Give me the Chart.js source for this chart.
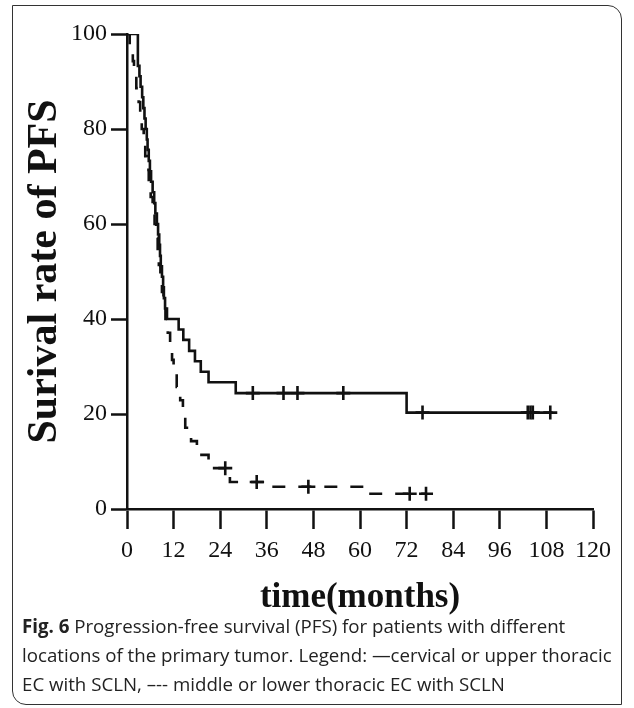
<!DOCTYPE html>
<html>
<head>
<meta charset="utf-8">
<script src="https://cdn.jsdelivr.net/npm/chart.js@4/dist/chart.umd.min.js"></script>
<style>
  body { margin: 0; background: #fff; width: 634px; height: 708px; position: relative; overflow: hidden; }
  #moldura {
    position: absolute; left: 12px; top: 5px; width: 608px; height: 698px;
    border: 1.5px solid #333; border-top-right-radius: 14px; border-bottom-left-radius: 14px;
  }
  #grafico { position: absolute; left: 0; top: 0; }
  #legenda {
    position: absolute; left: 22px; top: 611px; width: 605px;
    font-family: "Open Sans", "Noto Sans", sans-serif; font-size: 18.7px; line-height: 29px; color: #222;
    white-space: nowrap;
  }
  #legenda b { font-weight: 700; }
</style>
</head>
<body>
<div id="moldura"></div>
<canvas id="grafico" width="634" height="615"></canvas>
<div id="legenda"><b>Fig. 6</b> Progression-free survival (PFS) for patients with different<br>locations of the primary tumor. Legend: —cervical or upper thoracic<br>EC with SCLN, –-- middle or lower thoracic EC with SCLN</div>
<script>
// cervical / upper thoracic (solid line)
const tempoSolido = [0, 2.8, 3.2, 3.5, 3.9, 4.2, 4.5, 4.8, 5.1, 5.3, 5.6, 5.9, 6.2, 6.6, 7.0, 7.3, 7.7, 8.0, 8.3, 8.5,
    8.7, 9.0, 9.3, 9.5, 9.8, 10.3, 13.3, 14.5, 16.0, 17.5, 19.0, 21.0, 28.0, 72.0, 109.6];
const sobrevSolido = [100, 93.3, 91.1, 88.9, 86.7, 84.4, 82.2, 80.0, 77.8, 75.6, 73.3, 71.1, 68.9, 66.7, 64.4, 62.2, 60.0, 57.8, 55.6, 53.3,
    51.1, 48.9, 46.7, 44.4, 42.2, 40.0, 37.8, 35.6, 33.3, 31.1, 28.9, 26.7, 24.4, 20.3, 20.3];
const censuraSolidoT = [32.4, 40.3, 43.9, 55.7, 76.1, 103.2, 103.9, 104.5, 109.0];
const censuraSolidoS = [24.4, 24.4, 24.4, 24.4, 20.3, 20.3, 20.3, 20.3, 20.3];

// middle / lower thoracic (dashed line)
const tempoTracejado = [0, 0.7, 1.5, 1.8, 2.4, 3.0, 3.4, 3.8, 4.3, 4.7, 5.1, 5.6, 6.1, 6.6, 7.1, 7.5, 7.9, 8.2, 8.6, 9.0,
    9.4, 9.9, 10.5, 11.1, 11.6, 12.0, 12.8, 13.7, 14.4, 15.0, 16.5, 18.0, 21.0, 26.5, 36.0, 61.5, 77.0];
const sobrevTracejado = [100, 97.1, 94.3, 91.4, 88.6, 85.7, 82.9, 80.0, 77.1, 74.3, 71.4, 68.6, 65.7, 62.9, 60.0, 57.1, 54.3, 51.4, 48.6, 45.7,
    42.9, 40.0, 37.1, 34.3, 31.4, 28.6, 25.7, 22.9, 20.0, 17.1, 14.3, 11.4, 8.6, 5.7, 4.7, 3.2, 3.2];
const censuraTracejadoT = [25.3, 33.4, 46.7, 72.8, 77.0];
const censuraTracejadoS = [8.6, 5.7, 4.7, 3.2, 3.2];

const ticksX = [0, 12, 24, 36, 48, 60, 72, 84, 96, 108, 120];
const ticksY = [0, 20, 40, 60, 80, 100];

const PRETO = '#111';
const serifa = '"Liberation Serif", "DejaVu Serif", serif';

function pontos(xs, ys) {
    return xs.map((x, i) => ({ x: x, y: ys[i] }));
}

function curva(xs, ys, tracejado) {
    return {
        data: pontos(xs, ys), stepped: 'before', borderColor: PRETO, borderWidth: 2.6,
        borderDash: tracejado ? [13, 13] : [], pointRadius: 0, fill: false
    };
}

function censuras(xs, ys) {
    return {
        data: pontos(xs, ys), showLine: false, pointStyle: 'cross', pointRadius: 7,
        pointBorderWidth: 2.6, pointBorderColor: PRETO, pointBackgroundColor: PRETO
    };
}

new Chart(document.getElementById('grafico'), {
    type: 'line',
    data: {
        datasets: [
            curva(tempoSolido, sobrevSolido, false),
            curva(tempoTracejado, sobrevTracejado, true),
            censuras(censuraSolidoT, censuraSolidoS),
            censuras(censuraTracejadoT, censuraTracejadoS),
        ]
    },
    options: {
        responsive: false, animation: false,
        layout: { padding: { top: 34, right: 41, left: 0, bottom: 0 } },
        plugins: { legend: { display: false }, tooltip: { enabled: false } },
        scales: {
            x: {
                type: 'linear', min: 0, max: 120,
                afterFit: (s) => { s.height = 106; },
                afterBuildTicks: (s) => { s.ticks = ticksX.map((v) => ({ value: v })); },
                border: { display: true, color: PRETO, width: 2.5 },
                grid: { drawOnChartArea: false, drawTicks: true, tickLength: 20, tickColor: PRETO, tickWidth: 2.5 },
                ticks: { color: PRETO, padding: 7, font: { family: serifa, size: 24 } },
                title: {
                    display: true, text: 'time(months)', color: PRETO,
                    font: { family: serifa, size: 35, weight: 'bold', lineHeight: 1 },
                    padding: { top: 0, bottom: 0 }
                }
            },
            y: {
                min: 0, max: 100,
                afterFit: (s) => { s.width = 127; },
                afterBuildTicks: (s) => { s.ticks = ticksY.map((v) => ({ value: v })); },
                border: { display: true, color: PRETO, width: 2.5 },
                grid: { drawOnChartArea: false, drawTicks: true, tickLength: 16, tickColor: PRETO, tickWidth: 2.5 },
                ticks: { color: PRETO, padding: 4, font: { family: serifa, size: 24 } },
                title: {
                    display: true, text: 'Surival rate of PFS', color: PRETO,
                    font: { family: serifa, size: 42, weight: 'bold', lineHeight: 1 },
                    padding: { top: 24, bottom: 0 }
                }
            }
        }
    }
});
</script>
</body>
</html>
